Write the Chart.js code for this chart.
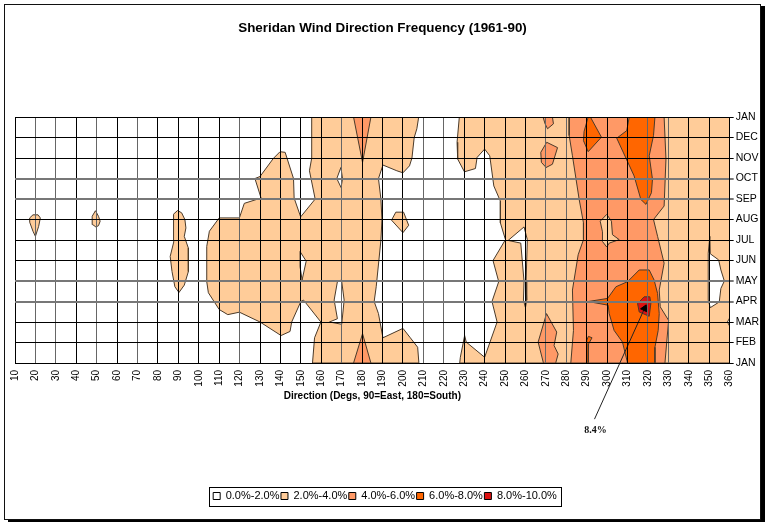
<!DOCTYPE html>
<html lang="en">
<head>
<meta charset="UTF-8">
<title>Sheridan Wind Direction Frequency</title>
<script src="https://cdn.jsdelivr.net/npm/chart.js"></script>
<style>
  html, body { margin: 0; background: #fff; }
  #grafico { position: absolute; left: 0; top: 0; }
  #moldura { position: absolute; left: 4px; top: 4px; width: 755px; height: 514px;
             border: 1px solid #111; box-shadow: 4px 2px 0 #000; pointer-events: none; }
</style>
</head>
<body>
<canvas id="grafico" width="768" height="525"></canvas>
<div id="moldura"></div>

<script>
// months run bottom to top: 0 = JAN ... 12 = JAN
const months = ['JAN','FEB','MAR','APR','MAY','JUN','JUL','AUG','SEP','OCT','NOV','DEC','JAN'];
const bandLabels = ['0.0%-2.0%','2.0%-4.0%','4.0%-6.0%','6.0%-8.0%','8.0%-10.0%'];
const bandColors = ['#FFFFFF','#FFCC99','#FF9966','#FF6600','#DD1111'];

// contour outlines, [direction, month]
// 2-4%
const blob20 = [[17.2,7.08],[18.8,7.23],[21.3,7.23],[22.4,7.08],[21.6,6.67],[20,6.18],[18.8,6.43],[17.2,6.87]];
const blob50 = [[47.8,7.16],[49.4,7.43],[50.9,7.16],[51.7,6.92],[50.9,6.7],[49.6,6.64],[48.1,6.75]];
const blob90 = [[87.5,7.25],[89.6,7.44],[91.6,7.33],[93.2,7],[93.7,6.59],[92.9,6.18],[94.9,5.61],[94.9,4.46],[92.9,3.8],[90.3,3.44],[88.3,3.72],[86.9,4.46],[86,5.2],[87.8,5.93],[87.8,6.59]];
const blob200 = [[194.4,6.97],[196.5,7.36],[200.3,7.36],[202.8,6.72],[200,6.36]];
const middleArea = [[155.3,12],[207.7,12],[206.8,11.43],[205.5,11],[204.4,10],[203.2,9.62],[200,9.28],[197,9.38],[190.2,9.66],[188,9],[189.2,8],[189.7,7],[189.2,6],[188.2,5],[186.9,3.72],[185.9,3],[188,2.41],[190.2,1.23],[200,1.69],[203.6,1.23],[207.2,0.77],[207.8,0],[155.7,0],[156.7,1.23],[159.8,2],[151.3,3.07],[150,3],[145.5,2],[144.7,1.54],[140.3,1.34],[130,2],[119.9,2.48],[114.2,2.36],[110,2.61],[104.7,3.43],[103.9,3.97],[103.9,5.69],[105.2,6.43],[110,7.08],[119.9,7.08],[122.3,7.79],[130.5,8.05],[127.5,9],[130,9.1],[136.5,9.98],[139.8,10.31],[142.3,10.28],[146.4,9],[146.7,8.05],[149.9,7.13],[157,8],[154.2,9.38],[155.3,10]];
const rightArea = [[227.6,12],[226.5,10.77],[226.8,9.95],[230.1,9.33],[235.5,9.49],[236.3,10.03],[240,10.44],[242.5,10.11],[244.5,8.64],[247.7,7.9],[247.7,6.84],[250.2,6.02],[244.1,5],[246.9,3.97],[243.6,3],[246.1,2],[240,0.28],[231,1.02],[230.2,1.34],[228.1,0.28],[227.8,0],[360,0],[360,12]];
// under 2% pockets inside the 2-4% areas
const hole150 = [[149.6,5.44],[152.6,4.97],[150.6,4.05],[149.6,4.7]];
const hole170top = [[169.6,9.54],[167.6,9],[169.7,8.56],[170.4,9]];
const hole170low = [[167.9,3.97],[169.9,4.05],[171.2,3.07],[170,1.89],[164,2],[167.9,2.16],[166.3,3.07]];
const hole255 = [[251.5,5.98],[259.3,6.64],[260.9,6.02],[260.3,3.97],[260.6,3.07],[260,2.7],[259,3.07],[259.3,3.97],[257.7,5.85]];
const hole350 = [[350.3,6.18],[350.5,5.33],[354.6,5.03],[355.7,4.54],[357.4,4],[355.7,3.64],[354.9,2.98],[350.5,2.7],[349.5,3.07],[349.5,5.36]];
const hole360 = [[358.9,2],[360,2.2],[360,1.8]];
// 4-6%
const spike180top = [[175.8,12],[184.3,12],[180.2,9.79]];
const spike180low = [[180.2,1.43],[184.3,0],[175.8,0]];
const blob270jan = [[268.6,12],[273.2,12],[273.7,11.67],[270.8,11.43],[269.6,11.67]];
const blob270nov = [[270.4,10.77],[275.7,10.51],[273.2,9.7],[270.1,9.54],[267.8,9.79],[267.5,10.28]];
const blob270feb = [[270.3,2.41],[275.3,1.51],[274,0.85],[276,0.44],[274.8,0],[268.8,0],[266.2,1.02]];
const column300 = [[281.4,12],[281.4,11.1],[283,10.11],[286.3,7.98],[288.4,6.84],[288.4,6.02],[285.8,5.28],[283,3.56],[283.5,1.59],[282.2,0],[328.3,0],[330.1,2.08],[326,2.74],[325.5,3.56],[327.9,4.87],[324.7,6.18],[322.7,7],[327.9,7.66],[328.8,9.95],[327.9,12]];
const pocket300 = [[299.8,7.25],[302.1,6.92],[302.6,6.26],[305.9,6.02],[301,5.85],[299.8,5.66],[297.7,5.93],[297.7,6.4],[296.6,6.92]];
// 6-8%
const blob290 = [[290.7,12],[291.8,12],[297.2,11.02],[290.7,10.31],[288.4,10.85],[288.7,11.3]];
const blob320top = [[310.8,12],[323.4,12],[322.7,11.1],[320.6,10.11],[322.2,8.97],[321.7,8.31],[319,7.74],[316.5,7.98],[313.2,9.13],[304.7,10.97],[309.6,11.34]];
const blob320low = [[300.2,3.15],[304.3,3.72],[310,3.97],[315.7,4.54],[320.6,4.54],[323,4.05],[324.7,3.39],[325.5,2.41],[325,1.59],[323.4,0.77],[323.4,0],[310,0],[307.5,1.02],[303.4,1.59],[301,2.41],[300.5,2.82],[290.7,3]];
const sliver290 = [[290,0],[290,1.1],[290.8,1.3],[292.6,1.23],[290.9,0.93],[290.8,0]];
// 8-10%
const peak320 = [[314.9,2.9],[318.1,3.23],[320.9,3.23],[321.4,2.9],[320.6,2.28],[315.7,2.49]];
// leader line to the 8.4% peak
const peakLabel = '8.4%';
const peakLeader = [[293.8,-2.74],[318.3,2.66]];

// drawn in this order, later ones on top
const shapes = [
  [middleArea,1],[rightArea,1],[blob20,1],[blob50,1],[blob90,1],[blob200,1],
  [hole150,0],[hole170top,0],[hole170low,0],[hole255,0],[hole350,0],[hole360,0],
  [column300,2],[spike180top,2],[spike180low,2],[blob270jan,2],[blob270nov,2],[blob270feb,2],
  [pocket300,1],
  [blob290,3],[blob320top,3],[blob320low,3],[sliver290,3],
  [peak320,4]
];

const toPoints = list => list.map(p => ({ x: p[0], y: p[1] }));
const closed = list => list.concat([list[0]]);

const legendSets = bandLabels.map((label, i) => ({
  label: label,
  data: [],
  backgroundColor: bandColors[i],
  borderColor: '#000',
  borderWidth: 1
}));

const shapeSets = shapes.map((s, i) => ({
  label: 'contour ' + bandLabels[s[1]],
  data: toPoints(closed(s[0])),
  showLine: true,
  tension: 0,
  fill: 'shape',
  backgroundColor: bandColors[s[1]],
  borderColor: '#4a3a2a',
  borderWidth: 1,
  pointRadius: 0,
  order: -i
}));

const leaderSet = {
  label: 'leader',
  data: toPoints(peakLeader),
  showLine: true,
  tension: 0,
  fill: false,
  clip: false,
  borderColor: '#222',
  borderWidth: 1,
  pointRadius: [0, 4],
  pointStyle: 'triangle',
  rotation: 25,
  pointBackgroundColor: '#000',
  pointBorderColor: '#000',
  order: -100
};

// some grid lines came out lighter in the source image
const softX = [20,30,50,70,120,170,210,220,270,280,320,330];
const softY = [3,4,8,9];

const extras = {
  id: 'extras',
  afterLayout(chart) {
    // the title and legend sit centred on the frame, not on the plot
    chart.titleBlock.right -= 11;
    chart.legend.right -= 6;
  },
  afterDraw(chart) {
    const ctx = chart.ctx;
    const leg = chart.legend;
    const used = leg.lineWidths[0];
    const start = (leg.left + leg.right - used) / 2;
    ctx.save();
    ctx.strokeStyle = '#000';
    ctx.lineWidth = 1;
    ctx.strokeRect(Math.round(start - 3) + 0.5, Math.round(leg.top - 2) + 0.5, Math.round(used + 7), 19);
    ctx.fillStyle = '#111';
    ctx.font = 'bold 10px "Liberation Serif"';
    ctx.textAlign = 'center';
    ctx.fillText(peakLabel, chart.scales.x.getPixelForValue(peakLeader[0][0]) + 1, chart.scales.y.getPixelForValue(peakLeader[0][1]) + 11);
    ctx.restore();
  }
};

new Chart(document.getElementById('grafico'), {
  type: 'scatter',
  data: { datasets: legendSets.concat(shapeSets, [leaderSet]) },
  plugins: [extras],
  options: {
    responsive: false,
    animation: false,
    devicePixelRatio: 1,
    layout: { padding: { left: 15, right: 7, top: 0, bottom: 13.5 } },
    plugins: {
      tooltip: { enabled: false },
      title: {
        display: true,
        text: 'Sheridan Wind Direction Frequency (1961-90)',
        color: '#000',
        font: { family: '"Liberation Sans"', size: 13.4, weight: 'bold' },
        padding: { top: 20, bottom: 81 }
      },
      legend: {
        position: 'bottom',
        labels: {
          color: '#000',
          font: { family: '"Liberation Sans"', size: 11 },
          boxWidth: 7,
          boxHeight: 7,
          padding: 1.5,
          filter: item => item.datasetIndex < bandLabels.length
        }
      }
    },
    scales: {
      x: {
        type: 'linear',
        min: 10,
        max: 360,
        afterFit: s => { s.height = 126; },
        grid: {
          z: 1,
          drawTicks: false,
          color: c => softX.includes(c.tick.value) ? '#666' : '#000'
        },
        border: { color: '#000', z: 2 },
        ticks: {
          stepSize: 10,
          autoSkip: false,
          minRotation: 90,
          maxRotation: 90,
          padding: 7,
          color: '#000',
          font: { family: '"Liberation Sans"', size: 10 }
        },
        title: {
          display: true,
          text: 'Direction (Degs, 90=East, 180=South)',
          color: '#000',
          font: { family: '"Liberation Sans"', size: 10, weight: 'bold' },
          padding: { top: 4, bottom: 87 }
        }
      },
      y: {
        position: 'right',
        min: 0,
        max: 12,
        grid: {
          z: 1,
          tickLength: 4,
          color: c => softY.includes(c.tick.value) ? '#777' : '#000',
          lineWidth: c => softY.includes(c.tick.value) ? 2 : 1
        },
        border: { color: '#000', z: 2 },
        ticks: {
          stepSize: 1,
          autoSkip: false,
          padding: 2,
          color: '#000',
          font: { family: '"Liberation Sans"', size: 10.5 },
          callback: v => months[v]
        }
      }
    }
  }
});
</script>
</body>
</html>
